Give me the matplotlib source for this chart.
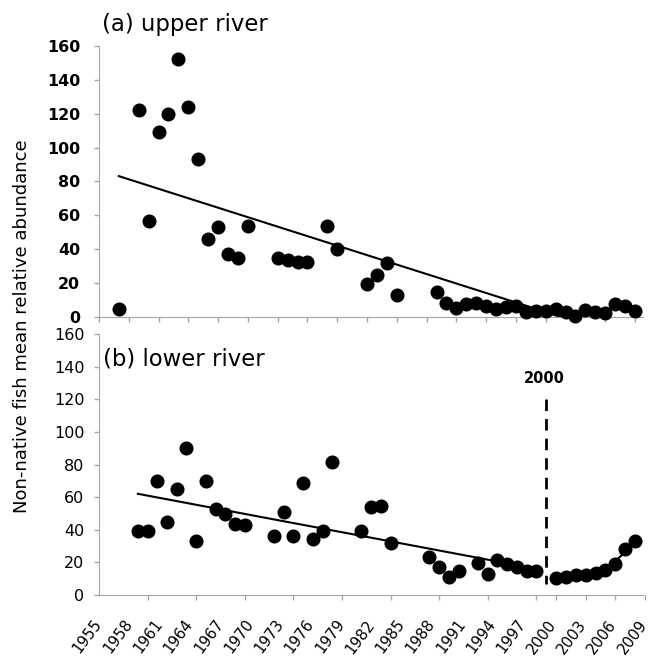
import numpy as np
import matplotlib
matplotlib.use("Agg")
import matplotlib.pyplot as plt

plt.rcParams['font.family'] = ['DejaVu Sans']
plt.rcParams['lines.scale_dashes'] = False

# (a) upper river
upper_years = [1957, 1959, 1960, 1961, 1962, 1963, 1964, 1965, 1966, 1967, 1968, 1969, 1970,
               1973, 1974, 1975, 1976, 1978, 1979, 1982, 1983, 1984, 1985,
               1989, 1990, 1991, 1992, 1993, 1994, 1995, 1996, 1997, 1998, 1999,
               2000, 2001, 2002, 2003, 2004, 2005, 2006, 2007, 2008, 2009]
upper_vals = [5, 122, 57, 109, 120, 152, 124, 93, 46, 53, 37, 35, 54,
              35, 34, 32.5, 32.5, 54, 40.5, 19.5, 25, 32, 13,
              15, 8.7, 5.5, 8, 8.4, 6.5, 4.7, 6, 6.9, 3.1, 3.5,
              3.7, 5.1, 3.1, 0.8, 4.5, 3.1, 2.8, 8, 6.9, 3.7]

# (b) lower river, before and after 2000
lower_pre_years = [1958, 1959, 1960, 1961, 1962, 1963, 1964, 1965, 1966, 1967, 1968, 1969,
                   1972, 1973, 1974, 1975, 1976, 1977, 1978, 1981, 1982, 1983, 1984,
                   1988, 1989, 1990, 1991, 1993, 1994, 1995, 1996, 1997, 1998, 1999]
lower_pre_vals = [39.5, 39.5, 69.8, 44.8, 65, 90.2, 33, 69.8, 52.6, 49.5, 43.4, 42.8,
                  36.4, 51, 36.4, 68.8, 34.6, 39.5, 81.8, 39.1, 54.2, 54.6, 31.9,
                  23.1, 17.4, 11.2, 14.9, 19.4, 12.9, 21.5, 19, 17, 14.9, 14.7]
lower_post_years = [2001, 2002, 2003, 2004, 2005, 2006, 2007, 2008, 2009]
lower_post_vals = [10.6, 10.9, 12.1, 12.5, 13.3, 15.3, 19, 28, 33.3]

year_labels = list(range(1955, 2010, 3))
y_ticks = list(range(0, 161, 20))
break_year = 2000

W, H = 655, 659
grey = '#a6a6a6'


def px_axes(x0, y_top, x1, y_bot):
    return [x0 / W, 1 - y_bot / H, (x1 - x0) / W, (y_bot - y_top) / H]


def style(ax, left=True):
    for s in ['top', 'right']:
        ax.spines[s].set_visible(False)
    ax.spines['bottom'].set_color(grey)
    ax.spines['left'].set_color(grey)
    ax.spines['left'].set_visible(left)
    ax.tick_params(colors=grey, labelcolor='black', direction='out', length=3.6, width=1)


def dots(ax, xs, ys):
    ax.plot(xs, ys, 'o', color='black', ms=9.1, zorder=3, clip_on=False)


def trend(ax, xs, ys, deg):
    c = np.polyfit(xs, ys, deg)
    xx = np.linspace(xs[0], xs[-1], 100)
    ax.plot(xx, np.polyval(c, xx), color='black', lw=1.5, zorder=2)


fig = plt.figure(figsize=(6.55, 6.59), dpi=100)

# top panel
ax1 = fig.add_axes(px_axes(99, 45.7, 643, 317.3))
style(ax1)
ax1.set_xlim(1955, 2009.8)
ax1.set_ylim(0, 160)
ax1.set_xticks(year_labels)
ax1.set_xticklabels([])
ax1.set_yticks(y_ticks)
ax1.tick_params(axis='y', pad=10, labelsize=11.4)
for t in ax1.get_yticklabels():
    t.set_fontweight('bold')
dots(ax1, upper_years, upper_vals)
trend(ax1, upper_years, upper_vals, 1)
fig.text(102 / W, 1 - 24.5 / H, '(a) upper river', fontsize=16.4, va='center', ha='left')

# bottom panel: frame with labels
ax2 = fig.add_axes(px_axes(99, 334.3, 644, 595))
style(ax2)
ax2.set_xlim(1955, 2009)
ax2.set_ylim(0, 160)
ax2.set_xticks(year_labels)
ax2.set_xticklabels([str(y) for y in year_labels], rotation=53, ha='right',
                    va='center', rotation_mode='anchor', fontsize=10.8)
ax2.tick_params(axis='x', length=0, pad=19)
ax2.set_yticks(y_ticks)
ax2.tick_params(axis='y', pad=7, labelsize=11.5)
fig.text(103 / W, 1 - 359 / H, '(b) lower river', fontsize=16.4, va='center', ha='left')

# before 2000
ax3 = fig.add_axes(px_axes(99, 334.3, 546, 595))
ax3.patch.set_visible(False)
for s in ax3.spines.values():
    s.set_visible(False)
ax3.set_xlim(1954, 2000)
ax3.set_ylim(0, 160)
ax3.set_xticks(list(range(1959, 2000, 5)))
ax3.set_xticklabels([])
ax3.set_yticks([])
ax3.tick_params(axis='x', colors=grey, direction='out', length=3.6, width=1)
dots(ax3, lower_pre_years, lower_pre_vals)
trend(ax3, lower_pre_years, lower_pre_vals, 1)

# after 2000
ax4 = fig.add_axes(px_axes(546, 334.3, 645, 595))
ax4.patch.set_visible(False)
for s in ax4.spines.values():
    s.set_visible(False)
ax4.set_xlim(2000, 2010)
ax4.set_ylim(0, 160)
ax4.set_xticks([2001, 2004, 2007, 2010])
ax4.set_xticklabels([])
ax4.set_yticks([])
ax4.tick_params(axis='x', colors=grey, direction='out', length=3.6, width=1)
dots(ax4, lower_post_years, lower_post_vals)
trend(ax4, lower_post_years, lower_post_vals, 2)
ax4.plot([break_year, break_year], [120, 7], color='black', lw=2,
         dashes=(8.3, 5.8), clip_on=False)
ax4.text(break_year - 0.2, 132.6, str(break_year), fontsize=10.5, fontweight='bold',
         ha='center', va='center')

fig.text(22 / W, 1 - 326 / H, 'Non-native fish mean relative abundance',
         rotation=90, fontsize=13, va='center', ha='center')

fig.savefig('out.png', dpi=100)
